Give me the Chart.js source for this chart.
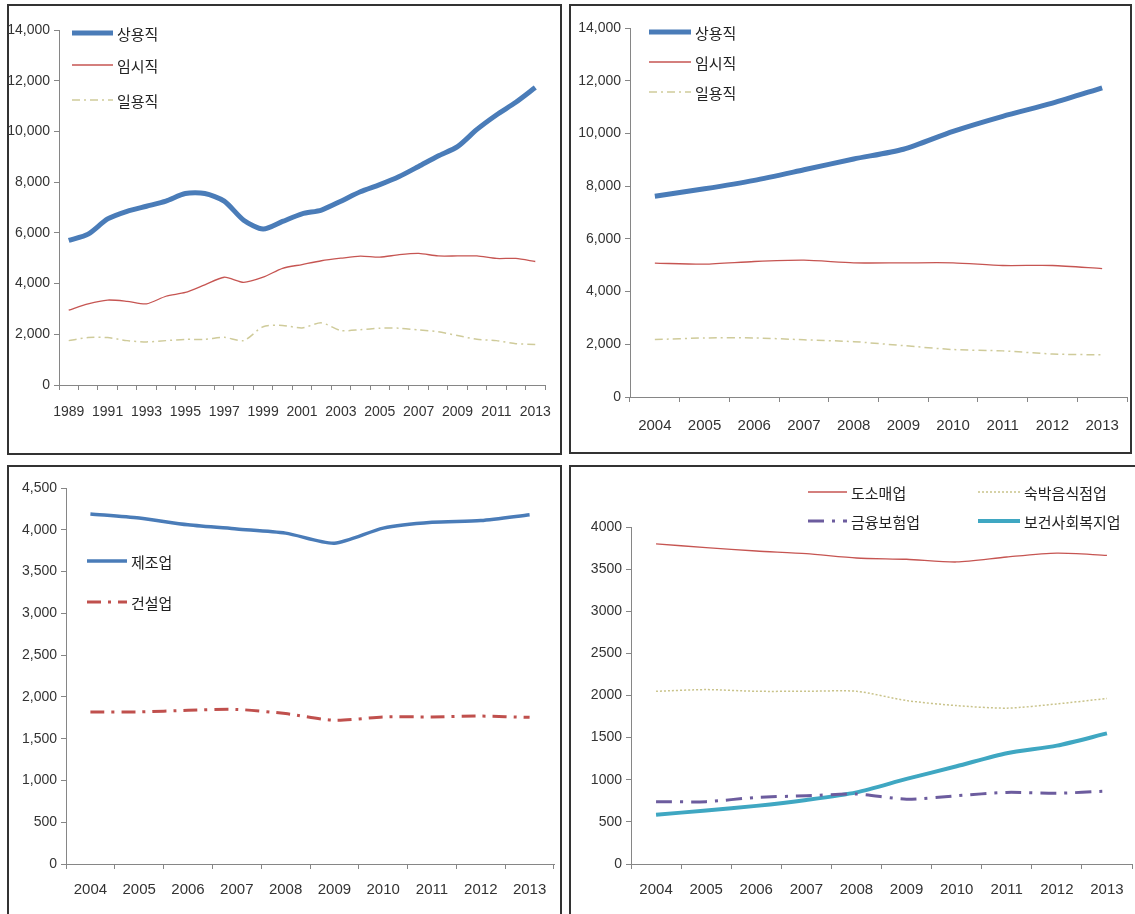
<!DOCTYPE html>
<html>
<head>
<meta charset="utf-8">
<script src="https://cdn.jsdelivr.net/npm/chart.js"></script>
<style>
body { margin: 0; background: #fff; width: 1135px; height: 914px; overflow: hidden; position: relative; }
.panel { position: absolute; border: 2px solid #333; background: #fff; box-sizing: border-box; }
.panel canvas { position: absolute; left: 0; top: 0; }
</style>
</head>
<body>
<div class="panel" style="left:7px;top:4px;width:555px;height:451px"><canvas id="empAll" width="551" height="447"></canvas></div>
<div class="panel" style="left:569px;top:4px;width:563px;height:450px"><canvas id="empRecent" width="559" height="446"></canvas></div>
<div class="panel" style="left:7px;top:465px;width:555px;height:460px"><canvas id="industryA" width="551" height="456"></canvas></div>
<div class="panel" style="left:569px;top:465px;width:580px;height:460px"><canvas id="industryB" width="576" height="456"></canvas></div>
<script>
// years
const yearsLong = ['1989', '1990', '1991', '1992', '1993', '1994', '1995', '1996', '1997', '1998', '1999', '2000',
    '2001', '2002', '2003', '2004', '2005', '2006', '2007', '2008', '2009', '2010', '2011', '2012', '2013'];
const yearsShort = ['2004', '2005', '2006', '2007', '2008', '2009', '2010', '2011', '2012', '2013'];

// employment by status (1989-2013)
const regularWorkers = [5700, 5950, 6550, 6850, 7050, 7250, 7550, 7550, 7250, 6500, 6150, 6450, 6750, 6900, 7250,
    7620, 7900, 8220, 8620, 9030, 9400, 10080, 10650, 11150, 11730];
const tempWorkers = [2950, 3200, 3350, 3300, 3200, 3500, 3650, 3950, 4250, 4050, 4250, 4600, 4750, 4900, 5000,
    5080, 5040, 5140, 5190, 5090, 5090, 5090, 4990, 4990, 4870];
const dailyWorkers = [1750, 1870, 1870, 1750, 1700, 1750, 1800, 1800, 1880, 1750, 2300, 2350, 2250, 2450, 2150,
    2180, 2240, 2240, 2170, 2100, 1950, 1800, 1750, 1630, 1600];

// industries (2004-2013)
const manufacturing = [4190, 4140, 4060, 4010, 3960, 3840, 4020, 4090, 4110, 4180];
const construction = [1820, 1820, 1840, 1850, 1800, 1720, 1760, 1760, 1770, 1755];
const wholesaleRetail = [3800, 3755, 3715, 3684, 3632, 3617, 3585, 3644, 3690, 3664];
const lodgingFood = [2050, 2070, 2050, 2050, 2050, 1940, 1880, 1850, 1900, 1965];
const financeInsurance = [740, 740, 790, 810, 830, 770, 810, 850, 840, 865];
const healthWelfare = [585, 635, 690, 760, 850, 1010, 1160, 1315, 1405, 1550];

const axisGray = '#868686';
const tickFont = { family: 'Liberation Sans', size: 14 };

//legend drawn inside the plot like the excel charts
const legendInside = {
    id: 'legendInside',
    afterDraw(chart, args, opts) {
        if (!opts.items) return;
        const ctx = chart.ctx;
        chart.data.datasets.forEach((ds, i) => {
            const it = opts.items[i];
            ctx.save();
            ctx.strokeStyle = ds.borderColor;
            ctx.lineWidth = ds.borderWidth;
            ctx.setLineDash(ds.borderDash || []);
            ctx.beginPath();
            ctx.moveTo(it.x, it.y);
            ctx.lineTo(it.x + it.len, it.y);
            ctx.stroke();
            ctx.setLineDash([]);
            ctx.fillStyle = '#222';
            ctx.font = '15px "Noto Sans CJK KR"';
            ctx.textBaseline = 'middle';
            ctx.fillText(ds.label, it.x + it.len + 4, it.y + 1);
            ctx.restore();
        });
    }
};
Chart.register(legendInside);

function makeChart(id, labels, datasets, cfg) {
    new Chart(document.getElementById(id), {
        type: 'line',
        data: { labels: labels, datasets: datasets },
        options: {
            responsive: false,
            animation: false,
            devicePixelRatio: 1,
            layout: { padding: cfg.padding },
            elements: { point: { radius: 0 }, line: { tension: 0.25 } },
            plugins: {
                legend: { display: false },
                tooltip: { enabled: false },
                legendInside: { items: cfg.legend }
            },
            scales: {
                x: {
                    offset: true,
                    grid: { offset: true, drawOnChartArea: false, color: axisGray, tickLength: 5 },
                    border: { color: axisGray },
                    ticks: {
                        autoSkip: false, maxRotation: 0, color: '#333', padding: cfg.xPad,
                        font: { family: 'Liberation Sans', size: cfg.xFont },
                        callback: function (v, i) { return i % cfg.every === 0 ? this.getLabelForValue(v) : ''; }
                    },
                    afterFit: (s) => { s.height = cfg.xHeight; s.paddingLeft = 0; s.paddingRight = 0; }
                },
                y: {
                    min: 0, max: cfg.max,
                    grid: { drawOnChartArea: false, color: axisGray, tickLength: 5 },
                    border: { color: axisGray },
                    ticks: {
                        stepSize: cfg.step, color: '#333', padding: 4, font: tickFont,
                        callback: cfg.comma ? (v) => v.toLocaleString('en-US') : (v) => String(v)
                    },
                    afterFit: (s) => { s.width = cfg.yWidth; s.paddingTop = 0; s.paddingBottom = 0; }
                }
            }
        }
    });
}

const statusSets = (n) => [
    { label: '상용직', data: regularWorkers.slice(-n), borderColor: '#4A7CB8', borderWidth: 5 },
    { label: '임시직', data: tempWorkers.slice(-n), borderColor: '#C65552', borderWidth: 1.3 },
    { label: '일용직', data: dailyWorkers.slice(-n), borderColor: '#CFCB9A', borderWidth: 1.5, borderDash: [8, 4, 2, 4] }
];

makeChart('empAll', yearsLong, statusSets(25), {
    padding: { left: 0, right: 15, top: 24, bottom: 23 },
    yWidth: 50, xHeight: 45, xPad: 14, xFont: 14, every: 2, max: 14000, step: 2000, comma: true,
    legend: [{ x: 63, y: 27, len: 41 }, { x: 63, y: 59, len: 41 }, { x: 63, y: 94, len: 41 }]
});

makeChart('empRecent', yearsShort, statusSets(10), {
    padding: { left: 0, right: 3, top: 22, bottom: 15 },
    yWidth: 59, xHeight: 40, xPad: 15, xFont: 15, every: 1, max: 14000, step: 2000, comma: true,
    legend: [{ x: 78, y: 26, len: 42 }, { x: 78, y: 56, len: 42 }, { x: 78, y: 86, len: 42 }]
});

makeChart('industryA', yearsShort, [
    { label: '제조업', data: manufacturing, borderColor: '#4A7CB8', borderWidth: 3.5 },
    { label: '건설업', data: construction, borderColor: '#C0504D', borderWidth: 3, borderDash: [14, 7, 3, 7] }
], {
    padding: { left: 0, right: 6, top: 21, bottom: 19 },
    yWidth: 57, xHeight: 40, xPad: 12, xFont: 15, every: 1, max: 4500, step: 500, comma: true,
    legend: [{ x: 78, y: 94, len: 40 }, { x: 78, y: 135, len: 40 }]
});

makeChart('industryB', yearsShort, [
    { label: '도소매업', data: wholesaleRetail, borderColor: '#C65552', borderWidth: 1.3 },
    { label: '숙박음식점업', data: lodgingFood, borderColor: '#C9C38A', borderWidth: 1.5, borderDash: [2, 2] },
    { label: '금융보험업', data: financeInsurance, borderColor: '#6C5C9E', borderWidth: 3, borderDash: [16, 8, 3, 8] },
    { label: '보건사회복지업', data: healthWelfare, borderColor: '#3FA7C2', borderWidth: 4 }
], {
    padding: { left: 0, right: 15, top: 60, bottom: 19 },
    yWidth: 60, xHeight: 40, xPad: 12, xFont: 15, every: 1, max: 4000, step: 500, comma: false,
    legend: [{ x: 237, y: 25, len: 39 }, { x: 407, y: 25, len: 42 }, { x: 237, y: 54, len: 39 }, { x: 407, y: 54, len: 42 }]
});
</script>
</body>
</html>
